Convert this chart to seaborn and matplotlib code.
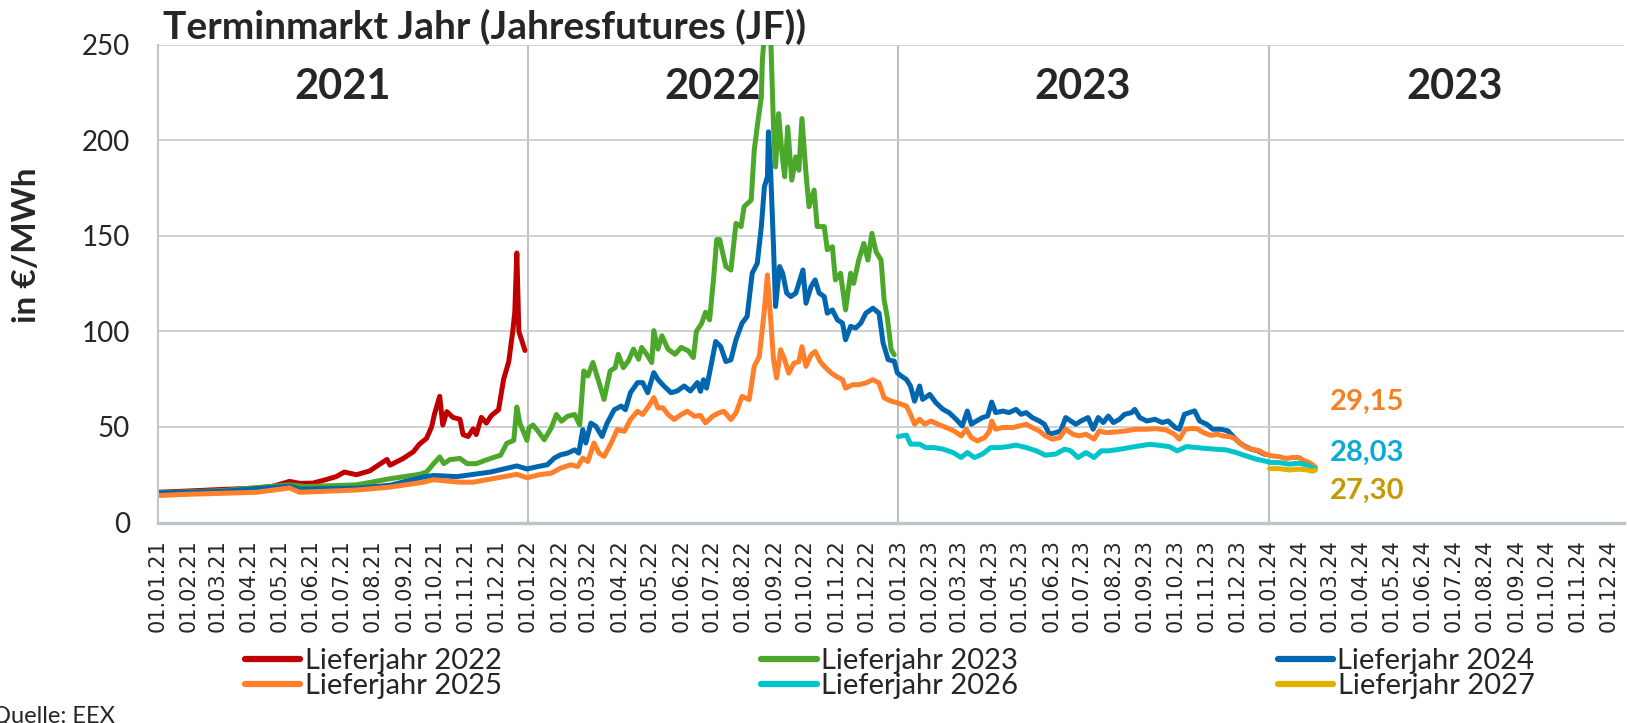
import matplotlib
matplotlib.use("Agg")
import matplotlib.pyplot as plt
import matplotlib.dates as mdates
from matplotlib.lines import Line2D
import pandas as pd
import seaborn as sns

# (date, EUR/MWh)
lj_2022 = [
    ("2021-01-01", 15.8), ("2021-02-01", 16.5), ("2021-03-06", 17.3), ("2021-04-08", 18.0),
    ("2021-04-25", 19.0), ("2021-05-11", 21.5), ("2021-05-21", 20.5), ("2021-06-03", 20.6),
    ("2021-06-13", 22.0), ("2021-06-26", 24.0), ("2021-07-04", 26.4), ("2021-07-16", 25.0),
    ("2021-07-29", 27.0), ("2021-08-15", 33.0), ("2021-08-18", 30.0), ("2021-08-31", 33.5),
    ("2021-09-10", 37.0), ("2021-09-16", 41.0), ("2021-09-23", 44.0), ("2021-09-28", 50.0),
    ("2021-10-01", 57.0), ("2021-10-06", 66.0), ("2021-10-09", 51.0), ("2021-10-13", 58.0),
    ("2021-10-19", 55.0), ("2021-10-26", 54.0), ("2021-10-29", 46.0), ("2021-11-03", 45.0),
    ("2021-11-08", 49.0), ("2021-11-11", 46.0), ("2021-11-16", 55.0), ("2021-11-21", 52.0),
    ("2021-11-26", 56.0), ("2021-12-03", 59.0), ("2021-12-08", 75.0), ("2021-12-13", 84.0),
    ("2021-12-17", 100.0), ("2021-12-19", 110.0), ("2021-12-21", 141.0), ("2021-12-23", 100.0),
    ("2021-12-26", 95.0), ("2021-12-29", 90.0),
]

lj_2023 = [
    ("2021-01-01", 15.5), ("2021-03-06", 16.7), ("2021-05-11", 19.7), ("2021-05-27", 18.8),
    ("2021-07-16", 19.7), ("2021-08-18", 22.9), ("2021-09-16", 25.2), ("2021-09-23", 26.4),
    ("2021-09-30", 30.8), ("2021-10-06", 34.3), ("2021-10-10", 30.8), ("2021-10-16", 32.9),
    ("2021-10-26", 33.5), ("2021-11-02", 30.8), ("2021-11-11", 30.8), ("2021-11-25", 33.5),
    ("2021-12-05", 35.2), ("2021-12-11", 41.4), ("2021-12-18", 43.0), ("2021-12-21", 60.4),
    ("2021-12-24", 52.0), ("2021-12-31", 43.0),
    ("2022-01-02", 49.5), ("2022-01-06", 51.0), ("2022-01-11", 47.7), ("2022-01-17", 43.3),
    ("2022-01-24", 49.5), ("2022-01-29", 56.5), ("2022-02-03", 53.0), ("2022-02-09", 55.6),
    ("2022-02-16", 56.5), ("2022-02-21", 51.0), ("2022-02-25", 79.3), ("2022-03-01", 76.7),
    ("2022-03-06", 83.7), ("2022-03-11", 75.0), ("2022-03-17", 64.4), ("2022-03-23", 79.3),
    ("2022-03-28", 81.0), ("2022-03-31", 88.0), ("2022-04-05", 81.0), ("2022-04-10", 84.6),
    ("2022-04-15", 90.7), ("2022-04-20", 85.4), ("2022-04-23", 91.6), ("2022-04-28", 88.0),
    ("2022-05-03", 83.7), ("2022-05-05", 100.4), ("2022-05-09", 90.7), ("2022-05-13", 97.7),
    ("2022-05-19", 90.7), ("2022-05-26", 88.0), ("2022-06-01", 91.6), ("2022-06-08", 89.8),
    ("2022-06-13", 86.3), ("2022-06-16", 100.0), ("2022-06-21", 104.0), ("2022-06-25", 110.0),
    ("2022-06-29", 106.0), ("2022-07-03", 128.0), ("2022-07-06", 148.0), ("2022-07-09", 148.0),
    ("2022-07-12", 140.8), ("2022-07-15", 133.9), ("2022-07-20", 132.1), ("2022-07-25", 156.5),
    ("2022-07-30", 154.8), ("2022-08-02", 165.2), ("2022-08-09", 168.7), ("2022-08-12", 194.8),
    ("2022-08-16", 211.3), ("2022-08-19", 222.6), ("2022-08-20", 241.8), ("2022-08-23", 262.0),
    ("2022-08-26", 275.0), ("2022-08-28", 258.0), ("2022-08-31", 206.9), ("2022-09-02", 186.0),
    ("2022-09-05", 213.9), ("2022-09-08", 194.8), ("2022-09-11", 180.9), ("2022-09-14", 206.9),
    ("2022-09-18", 179.1), ("2022-09-22", 191.3), ("2022-09-25", 184.3), ("2022-09-28", 211.3),
    ("2022-10-02", 182.6), ("2022-10-05", 165.2), ("2022-10-10", 173.9), ("2022-10-13", 154.8),
    ("2022-10-20", 154.8), ("2022-10-23", 142.7), ("2022-10-28", 144.3), ("2022-10-31", 126.9),
    ("2022-11-05", 130.4), ("2022-11-10", 111.2), ("2022-11-15", 130.4), ("2022-11-18", 125.1),
    ("2022-11-23", 137.3), ("2022-11-28", 146.0), ("2022-12-02", 137.3), ("2022-12-06", 151.3),
    ("2022-12-10", 141.7), ("2022-12-15", 137.3), ("2022-12-18", 116.5), ("2022-12-21", 107.8),
    ("2022-12-25", 90.4), ("2022-12-28", 87.7),
]

lj_2024 = [
    ("2021-01-01", 15.5), ("2021-03-06", 16.3), ("2021-05-11", 19.0), ("2021-05-21", 17.5),
    ("2021-07-16", 18.0), ("2021-08-18", 19.5), ("2021-09-20", 23.8), ("2021-09-30", 24.6),
    ("2021-10-23", 24.0), ("2021-11-25", 26.4), ("2021-12-21", 29.6), ("2021-12-31", 28.0),
    ("2022-01-11", 29.3), ("2022-01-20", 30.2), ("2022-01-27", 33.7), ("2022-02-02", 35.4),
    ("2022-02-09", 36.3), ("2022-02-16", 38.0), ("2022-02-20", 36.3), ("2022-02-24", 48.6),
    ("2022-02-27", 41.6), ("2022-03-04", 52.0), ("2022-03-09", 50.3), ("2022-03-15", 45.0),
    ("2022-03-20", 52.0), ("2022-03-27", 59.0), ("2022-04-03", 60.9), ("2022-04-07", 59.0),
    ("2022-04-12", 67.9), ("2022-04-19", 73.2), ("2022-04-24", 73.2), ("2022-04-29", 67.9),
    ("2022-05-05", 78.4), ("2022-05-09", 74.9), ("2022-05-15", 71.4), ("2022-05-22", 67.9),
    ("2022-05-28", 68.8), ("2022-06-04", 71.4), ("2022-06-10", 68.8), ("2022-06-17", 73.2),
    ("2022-06-20", 68.6), ("2022-06-23", 74.7), ("2022-06-26", 70.3), ("2022-06-30", 81.0),
    ("2022-07-05", 94.7), ("2022-07-10", 92.0), ("2022-07-15", 84.2), ("2022-07-20", 85.1),
    ("2022-07-25", 95.6), ("2022-07-31", 104.3), ("2022-08-05", 107.8), ("2022-08-10", 130.4),
    ("2022-08-15", 135.6), ("2022-08-19", 154.8), ("2022-08-22", 175.6), ("2022-08-25", 180.9),
    ("2022-08-26", 204.4), ("2022-08-28", 186.1), ("2022-08-31", 144.3), ("2022-09-02", 113.0),
    ("2022-09-06", 133.9), ("2022-09-09", 130.4), ("2022-09-13", 120.0), ("2022-09-17", 118.2),
    ("2022-09-22", 120.0), ("2022-09-25", 125.2), ("2022-09-29", 132.1), ("2022-10-02", 114.7),
    ("2022-10-07", 123.4), ("2022-10-11", 126.9), ("2022-10-15", 120.0), ("2022-10-20", 118.2),
    ("2022-10-23", 109.5), ("2022-10-28", 111.2), ("2022-11-02", 106.0), ("2022-11-07", 104.3),
    ("2022-11-10", 95.6), ("2022-11-15", 102.6), ("2022-11-20", 101.7), ("2022-11-25", 104.3),
    ("2022-11-30", 109.5), ("2022-12-07", 112.1), ("2022-12-13", 109.5), ("2022-12-17", 93.9),
    ("2022-12-22", 85.2), ("2022-12-28", 84.4), ("2022-12-31", 78.3),
    ("2023-01-04", 76.6), ("2023-01-09", 74.8), ("2023-01-13", 71.4), ("2023-01-17", 63.5),
    ("2023-01-22", 71.4), ("2023-01-25", 64.4), ("2023-02-01", 67.0), ("2023-02-07", 62.7),
    ("2023-02-14", 59.2), ("2023-02-20", 57.5), ("2023-02-27", 54.0), ("2023-03-05", 50.5),
    ("2023-03-10", 58.3), ("2023-03-14", 51.4), ("2023-03-19", 53.1), ("2023-03-25", 54.9),
    ("2023-03-30", 55.7), ("2023-04-03", 63.0), ("2023-04-07", 57.5), ("2023-04-14", 58.3),
    ("2023-04-20", 57.5), ("2023-04-27", 59.2), ("2023-05-02", 56.6), ("2023-05-07", 57.5),
    ("2023-05-13", 54.9), ("2023-05-20", 53.1), ("2023-05-25", 51.4), ("2023-05-30", 46.2),
    ("2023-06-05", 47.0), ("2023-06-10", 47.9), ("2023-06-15", 54.9), ("2023-06-20", 53.1),
    ("2023-06-25", 51.4), ("2023-06-30", 53.1), ("2023-07-07", 54.9), ("2023-07-12", 48.8),
    ("2023-07-17", 54.9), ("2023-07-22", 52.3), ("2023-07-27", 55.7), ("2023-08-01", 52.3),
    ("2023-08-07", 54.0), ("2023-08-12", 56.6), ("2023-08-19", 57.5), ("2023-08-22", 59.2),
    ("2023-08-27", 54.9), ("2023-09-03", 53.1), ("2023-09-11", 54.0), ("2023-09-18", 52.3),
    ("2023-09-24", 53.1), ("2023-10-01", 49.7), ("2023-10-05", 48.8), ("2023-10-10", 56.6),
    ("2023-10-15", 57.5), ("2023-10-20", 58.4), ("2023-10-25", 53.1), ("2023-11-01", 51.4),
    ("2023-11-07", 48.8), ("2023-11-15", 48.8), ("2023-11-22", 47.9), ("2023-11-28", 44.4),
    ("2023-12-03", 41.8), ("2023-12-08", 40.1), ("2023-12-15", 38.3), ("2023-12-21", 37.5),
    ("2023-12-28", 35.7),
]

lj_2025 = [
    ("2021-01-01", 14.1), ("2021-02-01", 14.8), ("2021-03-06", 15.3), ("2021-04-08", 15.8),
    ("2021-05-11", 18.1), ("2021-05-21", 15.8), ("2021-07-16", 17.0), ("2021-08-18", 18.5),
    ("2021-09-20", 21.1), ("2021-09-30", 22.4), ("2021-10-25", 21.1), ("2021-11-08", 21.1),
    ("2021-12-21", 25.2), ("2021-12-31", 23.4),
    ("2022-01-11", 24.9), ("2022-01-24", 25.8), ("2022-02-02", 28.4), ("2022-02-12", 30.2),
    ("2022-02-19", 29.3), ("2022-02-24", 33.7), ("2022-03-01", 31.9), ("2022-03-07", 41.6),
    ("2022-03-12", 36.3), ("2022-03-17", 34.6), ("2022-03-24", 41.6), ("2022-03-30", 48.6),
    ("2022-04-06", 47.7), ("2022-04-12", 53.9), ("2022-04-19", 58.2), ("2022-04-24", 56.5),
    ("2022-04-30", 60.9), ("2022-05-05", 65.3), ("2022-05-09", 60.0), ("2022-05-14", 60.0),
    ("2022-05-19", 56.5), ("2022-05-25", 53.9), ("2022-06-01", 56.5), ("2022-06-07", 58.2),
    ("2022-06-14", 55.6), ("2022-06-20", 56.0), ("2022-06-25", 52.1), ("2022-07-02", 55.6),
    ("2022-07-08", 57.3), ("2022-07-13", 58.2), ("2022-07-20", 53.9), ("2022-07-25", 57.3),
    ("2022-07-31", 66.0), ("2022-08-07", 64.3), ("2022-08-12", 81.7), ("2022-08-17", 86.9),
    ("2022-08-22", 111.2), ("2022-08-25", 129.5), ("2022-08-28", 107.8), ("2022-08-31", 85.1),
    ("2022-09-03", 75.6), ("2022-09-07", 90.4), ("2022-09-11", 85.1), ("2022-09-15", 78.1),
    ("2022-09-20", 83.3), ("2022-09-25", 84.2), ("2022-09-28", 92.0), ("2022-10-02", 81.7),
    ("2022-10-07", 87.7), ("2022-10-11", 89.5), ("2022-10-16", 84.2), ("2022-10-20", 81.7),
    ("2022-10-27", 78.1), ("2022-11-01", 76.4), ("2022-11-07", 74.7), ("2022-11-10", 70.3),
    ("2022-11-17", 72.1), ("2022-11-23", 72.1), ("2022-11-30", 73.0), ("2022-12-07", 74.7),
    ("2022-12-13", 73.0), ("2022-12-18", 65.2), ("2022-12-25", 63.5), ("2022-12-31", 62.6),
    ("2023-01-09", 60.9), ("2023-01-13", 56.6), ("2023-01-17", 51.4), ("2023-01-22", 54.0),
    ("2023-01-27", 51.4), ("2023-02-02", 53.1), ("2023-02-09", 51.4), ("2023-02-17", 49.7),
    ("2023-02-25", 47.9), ("2023-03-04", 45.3), ("2023-03-09", 48.8), ("2023-03-14", 44.4),
    ("2023-03-20", 42.7), ("2023-03-27", 44.4), ("2023-04-01", 47.9), ("2023-04-03", 53.1),
    ("2023-04-07", 48.8), ("2023-04-14", 49.7), ("2023-04-24", 49.7), ("2023-04-30", 50.5),
    ("2023-05-07", 51.4), ("2023-05-13", 49.7), ("2023-05-20", 47.9), ("2023-05-26", 45.3),
    ("2023-06-02", 43.6), ("2023-06-09", 44.4), ("2023-06-15", 48.8), ("2023-06-22", 46.2),
    ("2023-06-28", 45.3), ("2023-07-05", 46.2), ("2023-07-13", 43.6), ("2023-07-18", 47.9),
    ("2023-07-25", 47.0), ("2023-08-04", 47.4), ("2023-08-13", 47.9), ("2023-08-23", 48.8),
    ("2023-09-02", 48.8), ("2023-09-12", 49.1), ("2023-09-22", 48.4), ("2023-09-30", 46.2),
    ("2023-10-05", 43.6), ("2023-10-11", 48.8), ("2023-10-16", 49.1), ("2023-10-22", 49.1),
    ("2023-10-29", 47.0), ("2023-11-05", 45.6), ("2023-11-11", 46.2), ("2023-11-17", 45.3),
    ("2023-11-24", 44.9), ("2023-11-30", 43.6), ("2023-12-05", 40.9), ("2023-12-10", 39.2),
    ("2023-12-16", 38.3), ("2023-12-23", 37.5), ("2023-12-29", 35.7),
    ("2024-01-05", 34.8), ("2024-01-11", 34.5), ("2024-01-18", 33.5), ("2024-01-25", 34.0),
    ("2024-01-31", 34.0), ("2024-02-05", 32.2), ("2024-02-10", 31.4), ("2024-02-16", 29.15),
]

lj_2026 = [
    ("2023-01-01", 45.0), ("2023-01-09", 45.7), ("2023-01-13", 41.0), ("2023-01-22", 41.0),
    ("2023-01-28", 39.2), ("2023-02-05", 39.2), ("2023-02-14", 38.4), ("2023-02-24", 36.6),
    ("2023-03-04", 34.0), ("2023-03-10", 36.6), ("2023-03-17", 34.0), ("2023-03-25", 35.8),
    ("2023-04-02", 39.2), ("2023-04-11", 39.2), ("2023-04-20", 39.8), ("2023-04-27", 40.5),
    ("2023-05-07", 39.2), ("2023-05-17", 37.5), ("2023-05-26", 35.2), ("2023-06-05", 35.8),
    ("2023-06-14", 38.4), ("2023-06-20", 37.5), ("2023-06-27", 34.0), ("2023-07-05", 36.6),
    ("2023-07-13", 34.0), ("2023-07-20", 37.5), ("2023-07-28", 37.5), ("2023-08-07", 38.3),
    ("2023-08-17", 39.2), ("2023-08-27", 40.1), ("2023-09-06", 40.9), ("2023-09-15", 40.4),
    ("2023-09-25", 39.7), ("2023-10-03", 37.5), ("2023-10-12", 39.7), ("2023-10-22", 39.2),
    ("2023-11-01", 38.7), ("2023-11-11", 38.3), ("2023-11-20", 38.0), ("2023-11-30", 36.6),
    ("2023-12-10", 34.8), ("2023-12-20", 33.1), ("2023-12-28", 32.2), ("2024-01-03", 31.4),
    ("2024-01-11", 31.4), ("2024-01-21", 30.5), ("2024-01-31", 31.0), ("2024-02-08", 30.0),
    ("2024-02-16", 28.03),
]

lj_2027 = [
    ("2024-01-02", 28.2), ("2024-01-11", 28.2), ("2024-01-21", 27.5), ("2024-01-31", 27.9),
    ("2024-02-08", 27.5), ("2024-02-13", 26.8), ("2024-02-16", 27.3),
]

series_names = ["Lieferjahr 2022", "Lieferjahr 2023", "Lieferjahr 2024",
                "Lieferjahr 2025", "Lieferjahr 2026", "Lieferjahr 2027"]
series_data = [lj_2022, lj_2023, lj_2024, lj_2025, lj_2026, lj_2027]
series_colors = ["#C00000", "#4CA82B", "#0066B0", "#FF7F2A", "#00C4CC", "#E2B100"]

year_labels = ["2021", "2022", "2023", "2023"]
year_centers = ["2021-07-02", "2022-07-02", "2023-07-02", "2024-07-02"]
end_labels = ["29,15", "28,03", "27,30"]
end_label_y = [63, 36.6, 16.5]
end_label_colors = ["#F58025", "#0AAAD6", "#C49A00"]

rows = []
for name, pts in zip(series_names, series_data):
    for d, v in pts:
        rows.append({"Datum": pd.Timestamp(d), "Preis": v, "Lieferjahr": name})
df = pd.DataFrame(rows)

sns.set_style("white")
plt.rcParams["font.family"] = ["Lato", "DejaVu Sans"]

fig = plt.figure(figsize=(16.27, 7.23), dpi=100)
ax = fig.add_axes([0.0969, 0.2773, 0.9011, 0.661])

sns.lineplot(
    data=df, x="Datum", y="Preis", hue="Lieferjahr",
    palette=dict(zip(series_names, series_colors)),
    linewidth=3.6, estimator=None, sort=False, legend=False, ax=ax,
)

ax.set_xlim(pd.Timestamp("2021-01-01"), pd.Timestamp("2024-12-16"))
ax.set_ylim(0, 250)
ax.set_yticks(range(0, 251, 50))
ax.xaxis.set_major_locator(mdates.MonthLocator())
ax.xaxis.set_major_formatter(mdates.DateFormatter("%d.%m.%y"))
ax.tick_params(axis="x", rotation=90, labelsize=15, length=0, pad=12,
               labelfontfamily="DejaVu Sans")
ax.tick_params(axis="y", labelsize=20, length=0, pad=20)
ax.set_xlabel("")
ax.set_ylabel("")

ax.yaxis.grid(True, color="#C8CED6", linewidth=1.3)
ax.xaxis.grid(False)
ax.set_axisbelow(True)
for yr in ["2022-01-01", "2023-01-01", "2024-01-01"]:
    ax.axvline(pd.Timestamp(yr), color="#BFBFBF", linewidth=1.5, zorder=0.5)

for side in ["top", "right"]:
    ax.spines[side].set_visible(False)
ax.spines["left"].set_color("#BFC5CC")
ax.spines["left"].set_linewidth(1.5)
ax.spines["bottom"].set_color("#BCC4CC")
ax.spines["bottom"].set_linewidth(2.5)

for lbl, c in zip(year_labels, year_centers):
    ax.text(pd.Timestamp(c), 228, lbl, ha="center", va="center",
            fontsize=30, fontweight="bold")

for txt, y, col in zip(end_labels, end_label_y, end_label_colors):
    ax.text(pd.Timestamp("2024-03-01"), y, txt, ha="left", va="center",
            fontsize=21, fontweight="bold", color=col)

fig.text(163 / 1627, 1 - 27 / 723, "Terminmarkt Jahr (Jahresfutures (JF))",
         fontsize=28, fontweight="bold", va="center", ha="left")
fig.text(27 / 1627, 1 - 245 / 723, "in €/MWh", rotation=90,
         fontsize=24, fontweight="bold", va="center", ha="center")
fig.text(-8 / 1627, 1 - 716 / 723, "Quelle: EEX", fontsize=17,
         va="center", ha="left")

handles = [Line2D([0], [0], color=c, linewidth=4.5) for c in series_colors]
for row, y in [(0, 661), (1, 686)]:
    idx = range(row * 3, row * 3 + 3)
    fig.legend(
        [handles[i] for i in idx], [series_names[i] for i in idx],
        loc="center left", bbox_to_anchor=(245 / 1627, 1 - y / 723),
        ncol=3, frameon=False, fontsize=21, handlelength=1.9,
        handletextpad=0.15, columnspacing=8.9, borderpad=0, borderaxespad=0,
    )

fig.savefig("out.png", dpi=100)
